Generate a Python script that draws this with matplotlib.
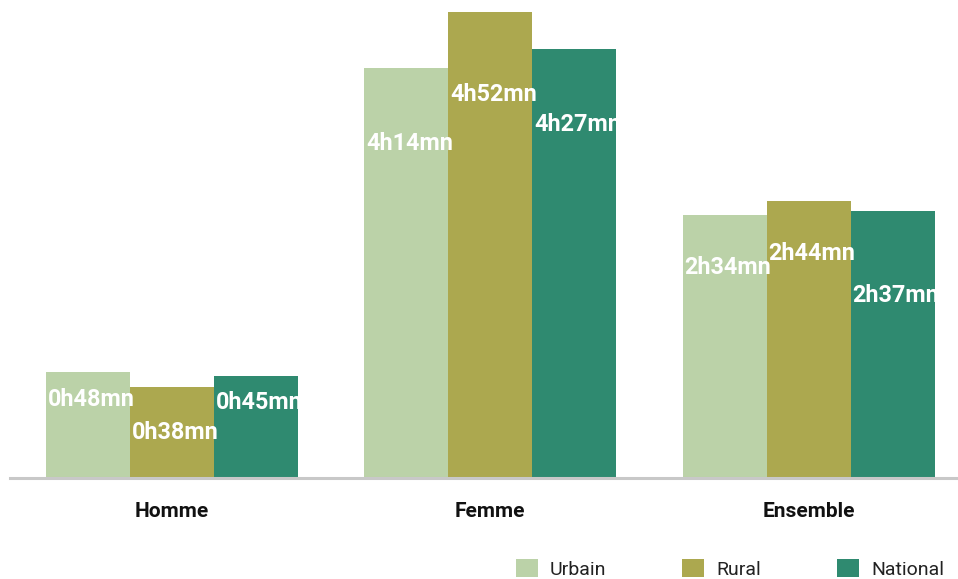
import matplotlib
matplotlib.use("Agg")
import matplotlib.pyplot as plt
import numpy as np
from matplotlib.patches import Patch

# ---- data ----
categories = ["Homme", "Femme", "Ensemble"]
series = ["Urbain", "Rural", "National"]
urbain = [48, 254, 154]      # minutes
rural = [38, 292, 164]
national = [45, 267, 157]
labels_urbain = ["0h48mn", "4h14mn", "2h34mn"]
labels_rural = ["0h38mn", "4h52mn", "2h44mn"]
labels_national = ["0h45mn", "4h27mn", "2h37mn"]

# ---- style / layout ----
colors = ["#bbd2a8", "#aca84f", "#2f8a70"]
BASE = -24            # bars rise from the axis floor
label_drop = [        # how far below each bar top the value label sits (minutes)
    [19, 51, 35],
    [31, 56, 36],
    [18, 51.5, 57],
]
plt.rcParams['font.family'] = ['Roboto', 'DejaVu Sans']

fig = plt.figure(figsize=(9.58, 5.79), dpi=100)
ax = fig.add_axes([10 / 958, 101 / 579, 948 / 958, 478 / 579])

x = np.arange(len(categories))
width = 0.2637
all_vals = [urbain, rural, national]
all_labels = [labels_urbain, labels_rural, labels_national]
for i, (vals, labs) in enumerate(zip(all_vals, all_labels)):
    pos = x + (i - 1) * width
    heights = [v - BASE for v in vals]
    ax.bar(pos, heights, width=width, bottom=BASE, color=colors[i],
           label=series[i], zorder=2, linewidth=0)
    for j, (p, v, t) in enumerate(zip(pos, vals, labs)):
        ax.text(p - width / 2 + 0.006, v - label_drop[i][j], t,
                ha="left", va="center", color="white", fontsize=16.8,
                fontweight="bold", zorder=3, clip_on=False)

ax.set_xlim(-0.507, 2.469)
ax.set_ylim(BASE, 300)
ax.set_yticks([])
ax.set_xticks(x)
ax.set_xticklabels(categories, fontsize=15, fontweight="bold", color="#111111")
ax.tick_params(axis="x", length=0, pad=17)
for s in ["top", "right", "left"]:
    ax.spines[s].set_visible(False)
ax.spines["bottom"].set_color("#c8c8c8")
ax.spines["bottom"].set_linewidth(2.2)
ax.spines["bottom"].set_zorder(4)

handles = [Patch(facecolor=c, edgecolor="none") for c in colors]
fig.legend(handles, series, loc="center left", bbox_to_anchor=(516 / 958, 1 - 569 / 579),
           ncol=3, frameon=False, fontsize=14, handlelength=1.13, handleheight=1.03,
           handletextpad=0.62, columnspacing=3.9, labelcolor="#222222",
           borderpad=0, borderaxespad=0)

fig.savefig("out.png", dpi=100)
